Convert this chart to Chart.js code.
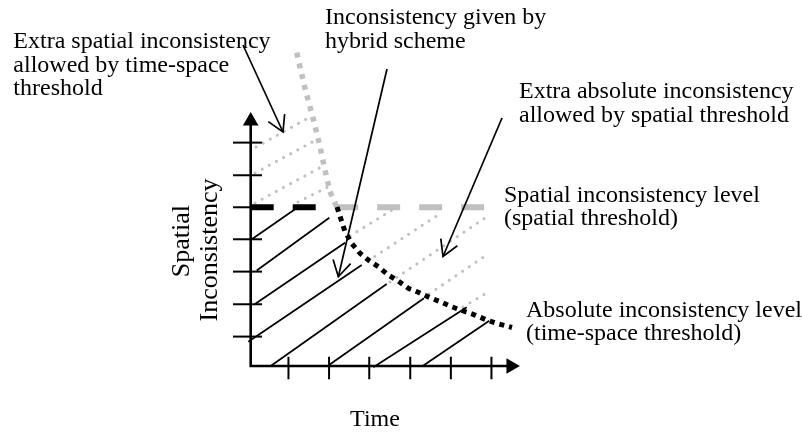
<!DOCTYPE html>
<html>
<head>
<meta charset="utf-8">
<script src="https://cdn.jsdelivr.net/npm/chart.js@4"></script>
<style>
  html, body { margin: 0; padding: 0; background: #fff; }
  #chart { display: block; }
</style>
</head>
<body>
<canvas id="chart" width="802" height="434"></canvas>
<script>
// Diagram units: x = time (one unit per tick), y = spatial inconsistency (one unit per tick)
const timeTicks = [0.93, 1.93, 2.92, 3.93, 4.93, 5.93];
const inconsistencyTicks = [0.91, 1.91, 2.92, 3.92, 4.91, 5.90, 6.91];
const timeAxisEnd = 6.41;
const inconsistencyAxisEnd = 7.58;

// spatial threshold (horizontal dashed level)
const spatialThreshold = 4.91;
const thresholdBlackX = [0, 1.63];
const thresholdGrayX = [2.08, 5.77];

// absolute inconsistency level (time-space threshold), above / below the spatial threshold
const curveAboveX = [1.133, 1.337, 1.559, 1.707, 1.830, 1.953, 2.118];
const curveAboveY = [9.691, 8.589, 7.556, 6.783, 6.062, 5.391, 4.927];
const curveBelowX = [2.126, 2.323, 2.488, 2.692, 2.897, 3.143, 3.389, 3.635, 3.882, 4.128, 4.416, 4.704, 4.951, 5.236, 5.525, 5.813, 6.059, 6.436];
const curveBelowY = [4.918, 4.154, 3.795, 3.486, 3.279, 3.071, 2.815, 2.629, 2.403, 2.280, 2.113, 1.970, 1.834, 1.701, 1.577, 1.423, 1.321, 1.191];

// hatching of the hybrid scheme region: [x1, y1, x2, y2]
const hatchSegments = [
  [0, 3.897, 1.091, 4.847],
  [0.148, 2.954, 1.936, 4.587],
  [0.106, 1.918, 2.323, 3.814],
  [-0.059, 0.752, 2.734, 3.124],
  [0.493, 0, 3.350, 2.536],
  [1.929, 0.031, 4.268, 2.094],
  [3.020, -0.040, 5.320, 1.816],
  [4.236, 0, 5.877, 1.401]
];

// extra inconsistency (gray dotted hatching)
const extraSpatialSegments = [
  [0.131, 6.774, 1.461, 7.702],
  [0.106, 5.970, 1.608, 6.990],
  [0.106, 5.042, 1.830, 6.217],
  [1.165, 5.073, 1.953, 5.568]
];
const extraAbsoluteSegments = [
  [2.446, 4.021, 3.480, 4.825],
  [2.889, 3.248, 4.613, 4.671],
  [3.431, 2.598, 5.771, 4.578],
  [4.392, 2.227, 5.845, 3.464],
  [5.229, 1.825, 5.894, 2.320]
];

// callout arrows: [fromX, fromY, toX, toY]
const calloutArrows = [
  [-0.190, 9.929, 0.795, 7.238],
  [3.357, 9.186, 2.158, 2.762],
  [6.190, 7.671, 4.736, 3.387]
];

// text notes (first baseline position in diagram units)
const noteLines = [
  ['Extra spatial inconsistency', 'allowed by time-space', 'threshold'],
  ['Inconsistency given by', 'hybrid scheme'],
  ['Extra absolute inconsistency', 'allowed by spatial threshold'],
  ['Spatial inconsistency level', '(spatial threshold)'],
  ['Absolute inconsistency level', '(time-space threshold)']
];
const noteX = [-5.847, 1.830, 6.608, 6.239, 6.781];
const noteY = [9.836, 10.578, 8.289, 5.088, 1.531];
const xTitle = 'Time';
const yTitle = ['Spatial', 'Inconsistency'];
const yTitleX = [-1.520, -0.830];
const yTitleMid = [3.866, 3.588];

const GRAY = '#c0c0c0';
const FONT = '"Liberation Serif", "Times New Roman", serif';

const seg = s => [{ x: s[0], y: s[1] }, { x: s[2], y: s[3] }];
const zip = (xs, ys) => xs.map((x, i) => ({ x: x, y: ys[i] }));

const datasets = [];

function addLine(data, style, order) {
  datasets.push(Object.assign({
    data: data,
    showLine: true,
    pointRadius: 0,
    borderColor: '#000',
    borderWidth: 1.7,
    fill: false,
    order: order
  }, style));
}

// curves on top
addLine(zip(curveBelowX, curveBelowY), { borderWidth: 5, borderDash: [5, 5] }, 1);
addLine(zip(curveAboveX, curveAboveY), { borderColor: GRAY, borderWidth: 5.5, borderDash: [5, 6] }, 1);

addLine([{ x: thresholdBlackX[0], y: spatialThreshold }, { x: thresholdBlackX[1], y: spatialThreshold }],
  { borderWidth: 6, borderDash: [23, 19] }, 2);
addLine([{ x: thresholdGrayX[0], y: spatialThreshold }, { x: thresholdGrayX[1], y: spatialThreshold }],
  { borderColor: GRAY, borderWidth: 6, borderDash: [23, 19] }, 3);

calloutArrows.forEach(a => addLine(seg(a), { arrowHead: true }, 2));
hatchSegments.forEach(s => addLine(seg(s), {}, 4));
extraSpatialSegments.concat(extraAbsoluteSegments).forEach(s =>
  addLine(seg(s), { borderColor: GRAY, borderWidth: 3, borderDash: [0.1, 8], borderCapStyle: 'round' }, 5));

// axes and ticks
addLine([{ x: 0, y: inconsistencyAxisEnd }, { x: 0, y: 0 }, { x: timeAxisEnd, y: 0 }], { borderWidth: 2.6 }, 3);
inconsistencyTicks.forEach(t => addLine([{ x: -0.436, y: t }, { x: 0.278, y: t }], { borderWidth: 2 }, 3));
timeTicks.forEach(t => addLine([{ x: t, y: 0.288 }, { x: t, y: -0.411 }], { borderWidth: 2 }, 3));

// axis arrow heads
datasets.push({
  data: [{ x: 0, y: inconsistencyAxisEnd }, { x: timeAxisEnd, y: 0 }],
  pointStyle: 'triangle',
  pointRadius: 9,
  rotation: [0, 90],
  backgroundColor: '#000',
  borderWidth: 0,
  order: 0
});

const arrowHeadPlugin = {
  id: 'arrowHeads',
  afterDatasetsDraw(chart) {
    const ctx = chart.ctx;
    chart.data.datasets.forEach((ds, i) => {
      if (!ds.arrowHead) return;
      const pts = chart.getDatasetMeta(i).data;
      const a = pts[pts.length - 2], b = pts[pts.length - 1];
      const ang = Math.atan2(a.y - b.y, a.x - b.x);
      const len = 18, spread = Math.PI / 6;
      ctx.save();
      ctx.strokeStyle = '#000';
      ctx.lineWidth = 1.7;
      ctx.beginPath();
      ctx.moveTo(b.x + len * Math.cos(ang - spread), b.y + len * Math.sin(ang - spread));
      ctx.lineTo(b.x, b.y);
      ctx.lineTo(b.x + len * Math.cos(ang + spread), b.y + len * Math.sin(ang + spread));
      ctx.stroke();
      ctx.restore();
    });
  }
};

const notesPlugin = {
  id: 'notes',
  afterDraw(chart) {
    const ctx = chart.ctx;
    const sx = chart.scales.x, sy = chart.scales.y;
    ctx.save();
    ctx.fillStyle = '#000';
    ctx.font = '24px ' + FONT;
    ctx.textBaseline = 'alphabetic';
    ctx.textAlign = 'left';
    noteLines.forEach((lines, i) => {
      const px = sx.getPixelForValue(noteX[i]);
      const py = sy.getPixelForValue(noteY[i]);
      lines.forEach((t, j) => ctx.fillText(t, px, py + j * 23.5));
    });
    ctx.textAlign = 'center';
    ctx.fillText(xTitle, sx.getPixelForValue(3.062), sy.getPixelForValue(-1.871));
    yTitle.forEach((t, j) => {
      ctx.save();
      ctx.translate(sx.getPixelForValue(yTitleX[j]), sy.getPixelForValue(yTitleMid[j]));
      ctx.rotate(-Math.PI / 2);
      ctx.font = '26px ' + FONT;
      ctx.fillText(t, 0, 0);
      ctx.restore();
    });
    ctx.restore();
  }
};

new Chart(document.getElementById('chart'), {
  type: 'scatter',
  data: { datasets: datasets },
  options: {
    responsive: false,
    animation: false,
    layout: { padding: 0, autoPadding: false },
    plugins: { legend: { display: false }, tooltip: { enabled: false } },
    scales: {
      x: { type: 'linear', display: false, min: -6.175, max: 13.579 },
      y: { type: 'linear', display: false, min: -2.103, max: 11.321 }
    }
  },
  plugins: [arrowHeadPlugin, notesPlugin]
});
</script>
</body>
</html>
